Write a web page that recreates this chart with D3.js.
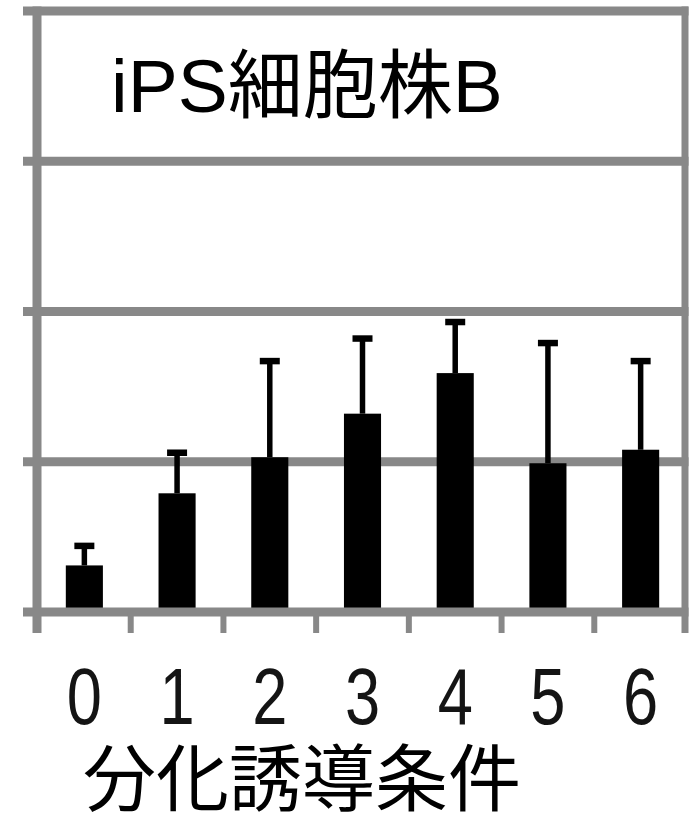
<!DOCTYPE html>
<html>
<head>
<meta charset="utf-8">
<script src="https://cdn.jsdelivr.net/npm/d3@7"></script>
<style>
  html, body { margin: 0; padding: 0; background: #fff; }
  svg { display: block; }
</style>
</head>
<body>
<svg id="chart" width="690" height="815"></svg>
<script>
// Differentiation conditions and measured means with upper error (SD)
const conditions = ["0", "1", "2", "3", "4", "5", "6"];
const means = [0.31, 0.79, 1.03, 1.32, 1.59, 0.99, 1.08];
const errors = [0.13, 0.27, 0.64, 0.50, 0.34, 0.80, 0.59];
const yTicks = [0, 1, 2, 3, 4];
const chartTitle = "iPS細胞株B";
const xTitle = "分化誘導条件";

const data = conditions.map((c, i) => ({ c, v: means[i], e: errors[i] }));

const svg = d3.select("#chart");
const plot = { left: 38, right: 687, top: 11, bottom: 612 };
const x = d3.scaleBand().domain(conditions).range([plot.left, plot.right]).padding(0);
const y = d3.scaleLinear().domain([0, 4]).range([plot.bottom, plot.top]);

const grey = "#888888";
const lineW = 9;
const axisX = 37, frameRight = 685, tickBottom = 633, stubLeft = 23;
const latin = "'Liberation Sans', Arial, 'Noto Sans CJK JP', sans-serif";
const cjk = "'Noto Sans CJK JP', 'Liberation Sans', sans-serif";

// horizontal gridlines (the baseline is drawn later, on top of the bars)
svg.append("g").selectAll("line")
  .data(yTicks.filter(d => d !== 0))
  .join("line")
  .attr("x1", stubLeft).attr("x2", frameRight + 3.5)
  .attr("y1", d => y(d)).attr("y2", d => y(d))
  .attr("stroke", grey).attr("stroke-width", lineW);

// bars
const barW = x.bandwidth() * 0.4;
svg.append("g").selectAll("rect")
  .data(data)
  .join("rect")
  .attr("x", d => x(d.c) + (x.bandwidth() - barW) / 2)
  .attr("y", d => y(d.v))
  .attr("width", barW)
  .attr("height", d => y(0) - y(d.v))
  .attr("fill", "#000");

// upper error bars
const err = svg.append("g");
err.selectAll("line.whisker")
  .data(data)
  .join("line")
  .attr("class", "whisker")
  .attr("x1", d => x(d.c) + x.bandwidth() / 2)
  .attr("x2", d => x(d.c) + x.bandwidth() / 2)
  .attr("y1", d => y(d.v))
  .attr("y2", d => y(d.v + d.e))
  .attr("stroke", "#000").attr("stroke-width", 5.5);
err.selectAll("line.cap")
  .data(data)
  .join("line")
  .attr("class", "cap")
  .attr("x1", d => x(d.c) + x.bandwidth() / 2 - 10)
  .attr("x2", d => x(d.c) + x.bandwidth() / 2 + 10)
  .attr("y1", d => y(d.v + d.e))
  .attr("y2", d => y(d.v + d.e))
  .attr("stroke", "#000").attr("stroke-width", 6.5);

// frame: baseline, left axis, right border, category ticks
const frame = svg.append("g").attr("stroke", grey);
frame.append("line")
  .attr("x1", stubLeft).attr("x2", frameRight + 3.5)
  .attr("y1", y(0)).attr("y2", y(0))
  .attr("stroke-width", lineW);
frame.append("line")
  .attr("x1", axisX).attr("x2", axisX)
  .attr("y1", y(4) - lineW / 2).attr("y2", tickBottom)
  .attr("stroke-width", lineW);
frame.append("line")
  .attr("x1", frameRight).attr("x2", frameRight)
  .attr("y1", y(4) - lineW / 2).attr("y2", tickBottom)
  .attr("stroke-width", 7);
frame.selectAll("line.tick")
  .data(conditions.slice(1))
  .join("line")
  .attr("class", "tick")
  .attr("x1", d => x(d)).attr("x2", d => x(d))
  .attr("y1", y(0)).attr("y2", tickBottom)
  .attr("stroke-width", 6);

// category labels (condensed digits)
svg.append("g").selectAll("text")
  .data(conditions)
  .join("text")
  .attr("transform", d => `translate(${x(d) + x.bandwidth() / 2},724) scale(0.8,1)`)
  .attr("text-anchor", "middle")
  .attr("font-family", latin)
  .attr("font-size", 79)
  .attr("fill", "#141414")
  .text(d => d);

// title inside the plot
svg.append("text")
  .attr("x", 111).attr("y", 112)
  .attr("font-family", latin)
  .attr("font-size", 75)
  .attr("fill", "#000")
  .text(chartTitle);

// x axis title
svg.append("text")
  .attr("x", 83).attr("y", 805)
  .attr("font-family", cjk)
  .attr("font-size", 73)
  .attr("fill", "#000")
  .text(xTitle);
</script>
</body>
</html>
